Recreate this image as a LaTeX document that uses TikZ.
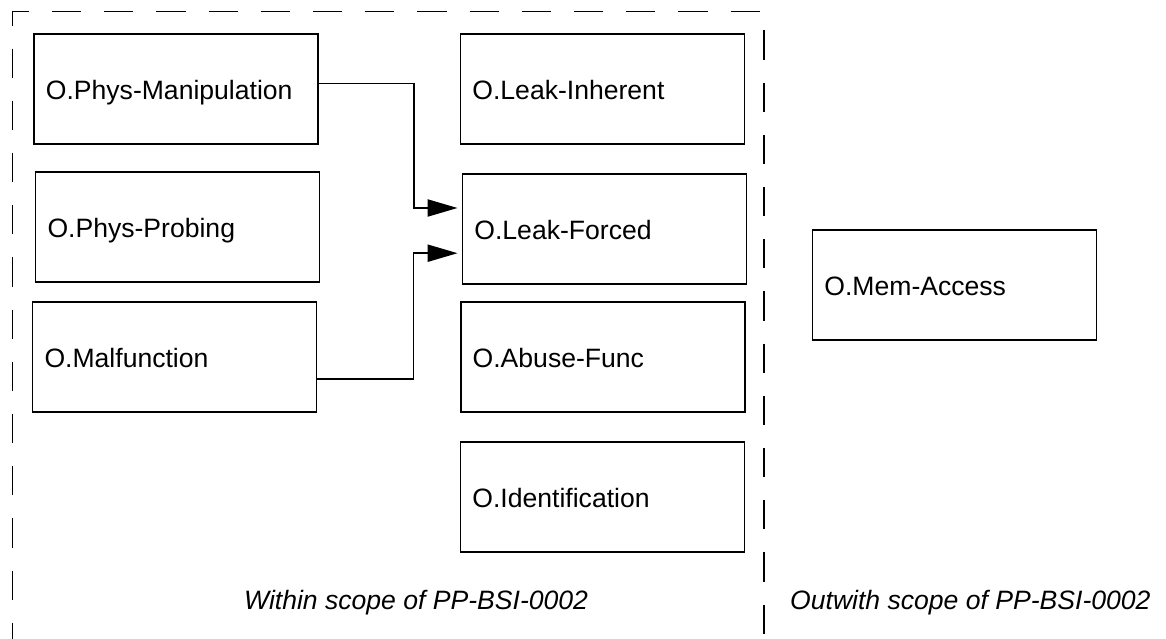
\documentclass[tikz,border=0pt]{standalone}
\usepackage{fontspec}
\setmainfont{Liberation Sans}
\usetikzlibrary{arrows.meta}
\begin{document}
\begin{tikzpicture}[
  objbox/.style={draw,line width=1.25pt,minimum width=7.1cm,minimum height=2.75cm,
    text width=6.5cm,inner xsep=0.3cm,align=left,text height=15.3pt,text depth=0pt},
  flow/.style={line width=1.1pt,-{Triangle[length=0.75cm,width=0.43cm]},shorten >=0.1cm},
  scopeline/.style={line width=1.25pt,dash pattern=on 0.73cm off 0.575cm},
  every node/.style={font=\fontsize{18.9}{22}\selectfont}
]
\useasboundingbox (0,0) rectangle (29.15,-15.975);
\coordinate (tl) at (0.31,-0.29);
\coordinate (tr) at (19.1,-0.29);
\draw[scopeline,dash phase=0.313cm] (tl) -- (tr) -- (19.1,-15.975);
\draw[scopeline,dash phase=0.382cm] (tl) -- (0.31,-15.975);
\node[objbox] (manip) at (4.397,-2.221) {O.Phys-Manipulation};
\node[objbox] (probing) at (4.4375,-5.675) {O.Phys-Probing};
\node[objbox] (malfunc) at (4.3625,-8.92) {O.Malfunction};
\node[objbox] (inherent) at (15.06,-2.221) {O.Leak-Inherent};
\node[objbox] (forced) at (15.11,-5.72) {O.Leak-Forced};
\node[objbox] (abuse) at (15.067,-8.92) {O.Abuse-Func};
\node[objbox] (ident) at (15.06,-12.42) {O.Identification};
\node[objbox] (memacc) at (23.86,-7.125) {O.Mem-Access};
\draw[flow] ([yshift=0.13cm]manip.east) -- ++(2.375,0) |- ([yshift=0.52cm]forced.west);
\draw[flow] ([yshift=-0.55cm]malfunc.east) -- ++(2.4,0) |- ([yshift=-0.61cm]forced.west);
\node[anchor=base west,font=\fontsize{18.9}{22}\selectfont\itshape] (within) at (5.98,-15.23) {Within scope of PP-BSI-0002};
\node[anchor=base west,font=\fontsize{18.9}{22}\selectfont\itshape] (outwith) at (19.63,-15.23) {Outwith scope of PP-BSI-0002};
\end{tikzpicture}
\end{document}
